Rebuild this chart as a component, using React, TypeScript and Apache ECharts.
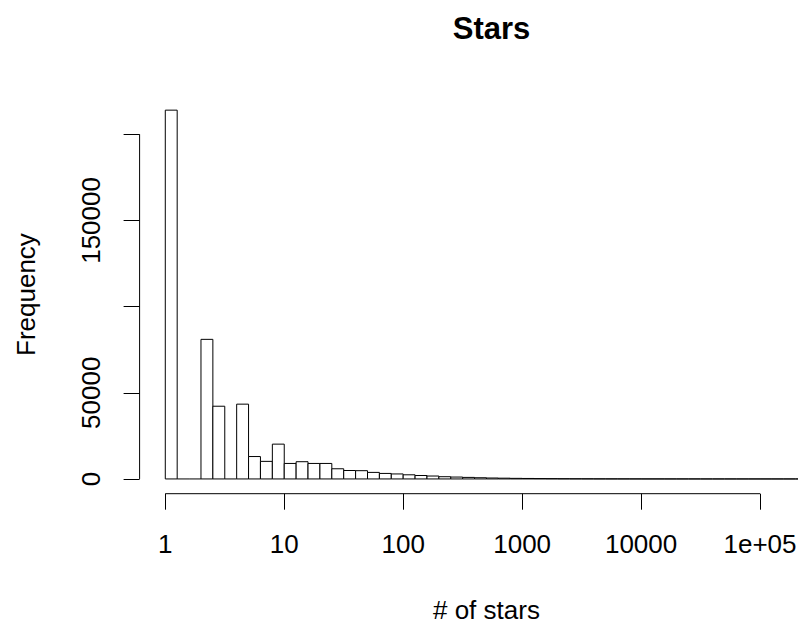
import { useEffect, useRef } from "react";
import * as echarts from "echarts";

// Histogram of log10(stars): bins of width 0.1 starting at 0 (i.e. 1 star)
const binStart = 0;
const binWidth = 0.1;
const binCounts = [
  214000, 0, 0, 81000, 42200, 0, 43400, 13000, 10200, 20200,
  9000, 10000, 9000, 9000, 5900, 4900, 4800, 3800, 3200, 2900,
  2400, 2000, 1700, 1300, 1100, 900, 700, 550, 450, 350,
  280, 220, 170, 130, 100, 80, 60, 45, 35, 28,
  22, 17, 12, 9, 7, 5, 4, 3, 2, 2,
  1, 1, 1, 1,
];

const xTickValues = [0, 1, 2, 3, 4, 5];
const xTickLabels = ["1", "10", "100", "1000", "10000", "1e+05"];
const yTickValues = [0, 50000, 100000, 150000, 200000];
const yLabelValues = [0, 50000, 150000];

const titleText = "Stars";
const xTitle = "# of stars";
const yTitle = "Frequency";

// plot range with 4% padding around the data extent
const xMin = -0.216;
const xMax = 5.616;
const yMin = -8560;
const yMax = 222560;

const FONT = "'Liberation Sans', Arial, Helvetica, sans-serif";
const INK = "#000";

export default function App() {
  const ref = useRef<HTMLDivElement>(null);

  useEffect(() => {
    if (!ref.current) return;
    const chart = echarts.init(ref.current, undefined, { renderer: "svg" });

    const barData = binCounts.map((c, i) => [
      binStart + i * binWidth,
      binStart + (i + 1) * binWidth,
      c,
    ]);

    chart.setOption({
      animation: false,
      backgroundColor: "#fff",
      title: {
        text: titleText,
        left: 486.5,
        top: 8,
        textAlign: "center",
        textStyle: {
          fontFamily: FONT,
          fontSize: 31,
          fontWeight: "bold",
          color: INK,
        },
      },
      grid: {
        left: 139.6,
        top: 95.4,
        width: 693.7,
        height: 398.3,
        containLabel: false,
        outerBoundsMode: "none",
      },
      xAxis: {
        type: "value",
        min: xMin,
        max: xMax,
        name: xTitle,
        nameLocation: "middle",
        nameGap: 103,
        nameTextStyle: { fontFamily: FONT, fontSize: 26, color: INK },
        axisLine: { show: false, onZero: false },
        splitLine: { show: false },
        axisTick: {
          show: true,
          customValues: xTickValues,
          length: 16,
          lineStyle: { color: INK, width: 1 },
        },
        axisLabel: {
          customValues: xTickValues,
          formatter: (v: number) => xTickLabels[xTickValues.indexOf(Math.round(v))] ?? "",
          margin: 37,
          fontFamily: FONT,
          fontSize: 26,
          color: INK,
          hideOverlap: false,
        },
      },
      yAxis: {
        type: "value",
        min: yMin,
        max: yMax,
        name: yTitle,
        nameLocation: "middle",
        nameGap: 101,
        nameRotate: 90,
        nameTextStyle: { fontFamily: FONT, fontSize: 26, color: INK },
        axisLine: { show: false, onZero: false },
        splitLine: { show: false },
        axisTick: {
          show: true,
          customValues: yTickValues,
          length: 16,
          lineStyle: { color: INK, width: 1 },
        },
        axisLabel: {
          customValues: yLabelValues,
          formatter: (v: number) => String(Math.round(v)),
          rotate: 90,
          margin: 36,
          fontFamily: FONT,
          fontSize: 26,
          color: INK,
          hideOverlap: false,
        },
      },
      series: [
        {
          type: "custom",
          name: "bins",
          silent: true,
          clip: false,
          data: barData,
          encode: { x: [0, 1], y: 2 },
          renderItem: (_params: any, api: any) => {
            const x0 = api.value(0);
            const x1 = api.value(1);
            const c = api.value(2);
            const pTop = api.coord([x0, c]);
            const pBase = api.coord([x1, 0]);
            if (c === 0) {
              return {
                type: "line",
                shape: { x1: pTop[0], y1: pBase[1], x2: pBase[0], y2: pBase[1] },
                style: { stroke: INK, lineWidth: 1 },
              };
            }
            return {
              type: "rect",
              shape: {
                x: pTop[0],
                y: pTop[1],
                width: pBase[0] - pTop[0],
                height: pBase[1] - pTop[1],
              },
              style: { fill: "#fff", stroke: INK, lineWidth: 1 },
            };
          },
        },
        {
          // x axis line, spanning the first to the last tick
          type: "line",
          silent: true,
          clip: false,
          symbol: "none",
          data: [
            [xTickValues[0], yMin],
            [xTickValues[xTickValues.length - 1], yMin],
          ],
          lineStyle: { color: INK, width: 1 },
        },
        {
          // y axis line, spanning the first to the last tick
          type: "line",
          silent: true,
          clip: false,
          symbol: "none",
          data: [
            [xMin, yTickValues[0]],
            [xMin, yTickValues[yTickValues.length - 1]],
          ],
          lineStyle: { color: INK, width: 1 },
        },
      ],
    });

    return () => chart.dispose();
  }, []);

  return (
    <div
      ref={ref}
      style={{
        position: "absolute",
        left: 0,
        top: 0,
        width: 798,
        height: 625,
        overflow: "hidden",
        background: "#fff",
      }}
    />
  );
}
